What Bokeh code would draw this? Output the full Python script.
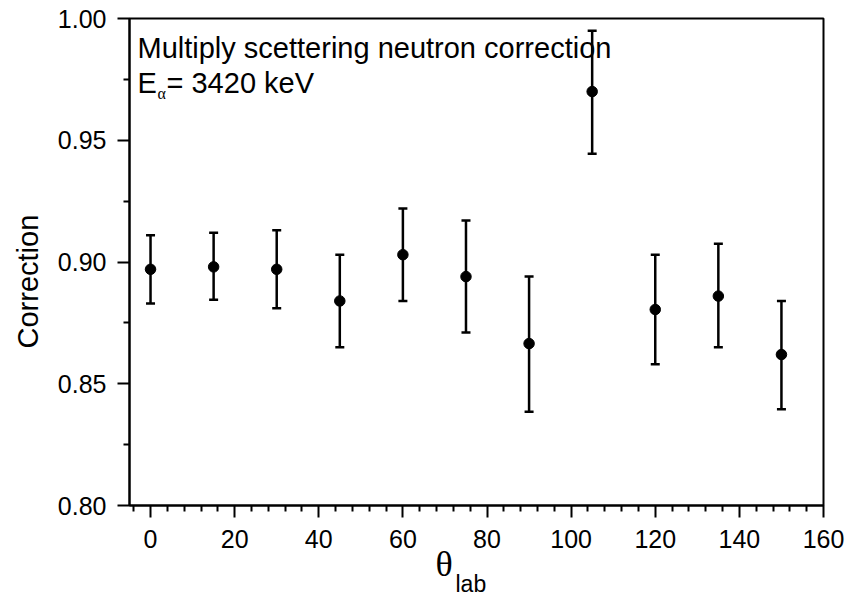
from bokeh.plotting import figure
from bokeh.models import (ColumnDataSource, Whisker, TeeHead, Label, Range1d,
                          FixedTicker, PrintfTickFormatter, Title)
from bokeh.embed import file_html
from bokeh.resources import INLINE

angles = [0, 15, 30, 45, 60, 75, 90, 105, 120, 135, 150]
correction = [0.897, 0.898, 0.897, 0.884, 0.903, 0.894, 0.8665, 0.970, 0.8805, 0.886, 0.862]
upper = [0.911, 0.912, 0.913, 0.903, 0.922, 0.917, 0.894, 0.995, 0.903, 0.9075, 0.884]
lower = [0.883, 0.8845, 0.881, 0.865, 0.884, 0.871, 0.8385, 0.9445, 0.858, 0.865, 0.8395]

x_ticks = [0, 20, 40, 60, 80, 100, 120, 140, 160]
x_minor = [-4, 4, 8, 12, 16, 24, 28, 32, 36, 44, 48, 52, 56, 64, 68, 72, 76, 84, 88, 92, 96,
           104, 108, 112, 116, 124, 128, 132, 136, 144, 148, 152, 156]
y_ticks = [0.80, 0.85, 0.90, 0.95, 1.00]
y_minor = [0.825, 0.875, 0.925, 0.975]

title_line = "Multiply scettering neutron correction"
energy_text = "= 3420 keV"
y_label = "Correction"
x_label_main = "θ"
x_label_sub = "lab"

src = ColumnDataSource(dict(x=angles, y=correction, up=upper, lo=lower))

p = figure(frame_width=694, frame_height=487, output_backend="svg", toolbar_location=None,
           x_range=Range1d(-5, 160), y_range=Range1d(0.80, 1.00),
           min_border_left=129, min_border_right=25, min_border_top=18, min_border_bottom=90)
p.outline_line_color = "black"
p.outline_line_width = 2
p.xgrid.grid_line_color = None
p.ygrid.grid_line_color = None
p.background_fill_color = "white"
p.border_fill_color = "white"

FONT = "Liberation Sans"

xa = p.xaxis[0]
ya = p.yaxis[0]
xa.ticker = FixedTicker(ticks=x_ticks, minor_ticks=x_minor)
ya.ticker = FixedTicker(ticks=y_ticks, minor_ticks=y_minor)
ya.formatter = PrintfTickFormatter(format="%.2f")

for ax in (xa, ya):
    ax.axis_line_width = 2
    ax.axis_line_color = "black"
    ax.major_tick_line_width = 2
    ax.minor_tick_line_width = 2
    ax.major_tick_line_color = "black"
    ax.minor_tick_line_color = "black"
    ax.major_tick_in = 0
    ax.minor_tick_in = 0
    ax.major_tick_out = 12
    ax.minor_tick_out = 6
    ax.major_label_text_font = FONT
    ax.major_label_text_font_size = "25px"
    ax.major_label_text_color = "black"
xa.major_label_standoff = 12
ya.major_label_standoff = 11

w = Whisker(base="x", upper="up", lower="lo", source=src, dimension="height",
            line_width=2.5, line_color="black",
            upper_head=TeeHead(size=9, line_width=2.5, line_color="black"),
            lower_head=TeeHead(size=9, line_width=2.5, line_color="black"))
p.add_layout(w)
p.scatter("x", "y", source=src, size=10.5, marker="circle", fill_color="black", line_color="black")

# texts inside plot
p.add_layout(Label(x=8, y=458, x_units="screen", y_units="screen", text=title_line,
                   text_font=FONT, text_font_size="29px", text_color="black",
                   text_baseline="alphabetic"))
p.add_layout(Label(x=8, y=423, x_units="screen", y_units="screen", text="E",
                   text_font=FONT, text_font_size="29px", text_color="black",
                   text_baseline="alphabetic"))
p.add_layout(Label(x=28, y=412, x_units="screen", y_units="screen", text="α",
                   text_font="Liberation Serif", text_font_size="16px", text_color="black",
                   text_baseline="alphabetic"))
p.add_layout(Label(x=37, y=423, x_units="screen", y_units="screen", text=energy_text,
                   text_font=FONT, text_font_size="29px", text_color="black",
                   text_baseline="alphabetic"))

# axis labels as side-panel titles
t_y = Title(text=y_label, align="left", offset=157, vertical_align="top", standoff=18,
            text_font=FONT, text_font_size="29px", text_font_style="normal", text_color="black")
p.add_layout(t_y, "left")
t_th = Title(text=x_label_main, align="left", offset=306, vertical_align="top", standoff=-14,
             text_font="Liberation Serif", text_font_size="36px", text_font_style="normal",
             text_color="black")
p.add_layout(t_th, "below")
t_lab = Title(text=x_label_sub, align="left", offset=326, vertical_align="top", standoff=-16,
              text_font=FONT, text_font_size="23px", text_font_style="normal", text_color="black")
p.add_layout(t_lab, "below")

open("out.html", "w").write(file_html(p, INLINE))
